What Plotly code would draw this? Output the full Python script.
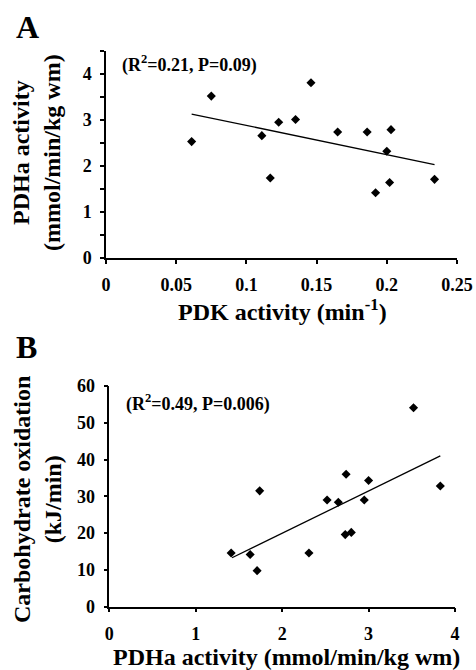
import plotly.graph_objects as go

# ---------------- Data ----------------
# Panel A: PDK activity vs PDHa activity
pdk_activity = [0.061, 0.075, 0.111, 0.117, 0.123, 0.135, 0.146, 0.165,
                0.186, 0.192, 0.200, 0.202, 0.203, 0.234]
pdha_activity_a = [2.53, 3.52, 2.66, 1.74, 2.95, 3.01, 3.81, 2.74,
                   2.74, 1.42, 2.32, 1.64, 2.79, 1.71]
trend_a_x = [0.061, 0.234]
trend_a_y = [3.13, 2.03]

# Panel B: PDHa activity vs carbohydrate oxidation
pdha_activity_b = [1.41, 1.63, 1.71, 1.74, 2.31, 2.52, 2.65, 2.73,
                   2.74, 2.80, 2.95, 3.00, 3.52, 3.83]
cho_oxidation = [14.6, 14.2, 9.8, 31.5, 14.6, 29.0, 28.4, 19.6,
                 36.0, 20.2, 29.0, 34.3, 54.1, 32.8]
trend_b_x = [1.42, 3.83]
trend_b_y = [13.3, 41.0]

# Tick values / labels
a_xticks = [0, 0.05, 0.1, 0.15, 0.2, 0.25]
a_xticklabels = ["0", "0.05", "0.1", "0.15", "0.2", "0.25"]
a_yticks = [0, 1, 2, 3, 4]
a_yticklabels = ["0", "1", "2", "3", "4"]
a_yminor = [0.5, 1.5, 2.5, 3.5, 4.5]
b_xticks = [0, 1, 2, 3, 4]
b_xticklabels = ["0", "1", "2", "3", "4"]
b_yticks = [0, 10, 20, 30, 40, 50, 60]
b_yticklabels = ["0", "10", "20", "30", "40", "50", "60"]

# Text
stat_a = "(R<sup>2</sup>=0.21, P=0.09)"
stat_b = "(R<sup>2</sup>=0.49, P=0.006)"
xtitle_a = "PDK activity (min<sup>-1</sup>)"
ytitle_a = "PDHa activity<br>(mmol/min/kg wm)"
xtitle_b = "PDHa activity (mmol/min/kg wm)"
ytitle_b = "Carbohydrate oxidation<br>(kJ/min)"

# ---------------- Figure ----------------
W, H = 476, 670
FONT = "Liberation Serif"


def px(x):
    return x / W


def py(y):
    return 1 - y / H


fig = go.Figure()

marker = dict(symbol="diamond", size=7, color="black", line=dict(width=0))
fig.add_trace(go.Scatter(x=pdk_activity, y=pdha_activity_a, mode="markers",
                         marker=marker, xaxis="x", yaxis="y", showlegend=False))
fig.add_trace(go.Scatter(x=trend_a_x, y=trend_a_y, mode="lines",
                         line=dict(color="black", width=1.3),
                         xaxis="x", yaxis="y", showlegend=False))
fig.add_trace(go.Scatter(x=pdha_activity_b, y=cho_oxidation, mode="markers",
                         marker=marker, xaxis="x2", yaxis="y2", showlegend=False))
fig.add_trace(go.Scatter(x=trend_b_x, y=trend_b_y, mode="lines",
                         line=dict(color="black", width=1.3),
                         xaxis="x2", yaxis="y2", showlegend=False))

tickfont = dict(family=FONT, size=18, color="black", weight="bold")
axis_common = dict(showline=True, linecolor="black", linewidth=1.5,
                   ticks="outside", ticklen=4, tickwidth=1.5, tickcolor="black",
                   showgrid=False, zeroline=False, tickfont=tickfont,
                   tickmode="array", fixedrange=True, automargin=False)

fig.update_layout(
    template="none",
    width=W, height=H,
    margin=dict(l=0, r=0, t=0, b=0, pad=0),
    paper_bgcolor="white", plot_bgcolor="white",
    xaxis=dict(domain=[px(106), px(457)], anchor="y", range=[0, 0.25],
               tickvals=a_xticks, ticktext=a_xticklabels,
               ticklabelstandoff=6, **axis_common),
    yaxis=dict(domain=[py(258), py(51)], anchor="x", range=[0, 4.5],
               tickvals=a_yticks, ticktext=a_yticklabels,
               minor=dict(tickvals=a_yminor, ticks="outside", ticklen=4,
                          tickwidth=1.5, tickcolor="black", showgrid=False),
               ticklabelstandoff=5, **axis_common),
    xaxis2=dict(domain=[px(109.3), px(455)], anchor="y2", range=[0, 4],
                tickvals=b_xticks, ticktext=b_xticklabels,
                ticklabelstandoff=6, **axis_common),
    yaxis2=dict(domain=[py(606.7), py(386)], anchor="x2", range=[0, 60],
                tickvals=b_yticks, ticktext=b_yticklabels,
                ticklabelstandoff=5, **axis_common),
)


def ann(text, x, y, size, xanchor="center", yanchor="middle", angle=0):
    fig.add_annotation(text=text, x=px(x), y=py(y), xref="paper", yref="paper",
                       xanchor=xanchor, yanchor=yanchor, showarrow=False,
                       textangle=angle,
                       font=dict(family=FONT, size=size, color="black", weight="bold"))


ann("A", 14, 27, 32, xanchor="left")
ann("B", 14, 347, 32, xanchor="left")
ann(stat_a, 120, 64, 18, xanchor="left")
ann(stat_b, 124, 403, 18, xanchor="left")
ann(xtitle_a, 282, 310, 24)
ann(xtitle_b, 286, 657, 24)
ann(ytitle_a, 37, 153, 24, angle=-90)
ann(ytitle_b, 37, 500, 24, angle=-90)

fig.write_html("out.html",
               config={"displayModeBar": False},
               post_script="document.body.style.margin='0';"
                           "document.body.style.padding='0';")
